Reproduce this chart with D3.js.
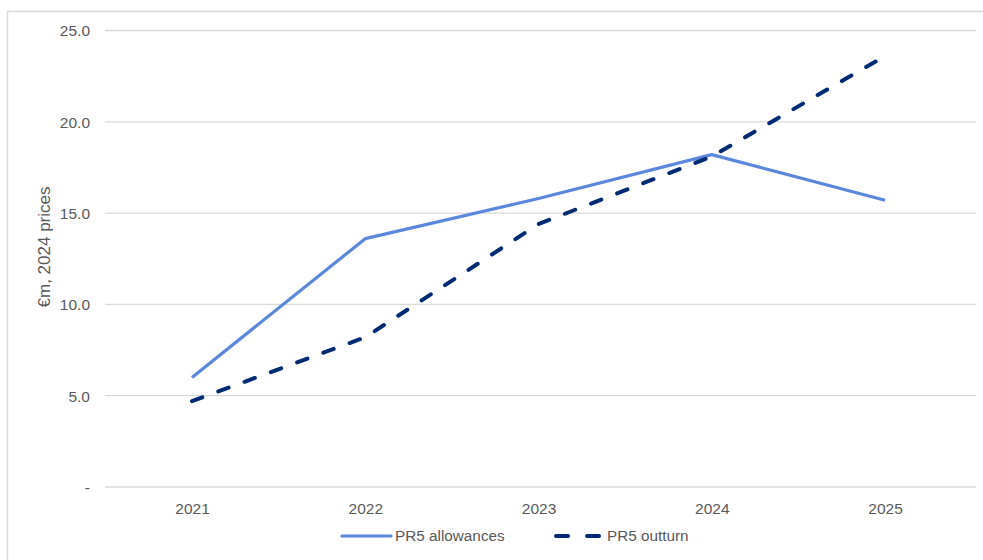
<!DOCTYPE html>
<html><head><meta charset="utf-8">
<script src="https://cdn.jsdelivr.net/npm/d3@7"></script>
<style>body{margin:0;background:#fff;} text{font-family:"Liberation Sans",Arial,sans-serif;}</style>
</head><body>
<svg id="c" width="983" height="560"></svg>
<script>
const years = ["2021","2022","2023","2024","2025"];
const allowances = [6.0, 13.6, 15.8, 18.2, 15.7];
const outturn = [4.7, 8.2, 14.4, 18.1, 23.6];
const yTicks = [0, 5, 10, 15, 20, 25];
const seriesNames = ["PR5 allowances", "PR5 outturn"];

const svg = d3.select("#c");
svg.append("rect").attr("x",7.5).attr("y",11.5).attr("width",1000).attr("height",600)
  .attr("fill","#fff").attr("stroke","#d9d9d9").attr("stroke-width",1.5);

const x = d3.scalePoint().domain(years).range([192, 885]);
const y = d3.scaleLinear().domain([0,25]).range([487, 30.5]);

const grid = svg.append("g");
grid.selectAll("line").data(yTicks).join("line")
  .attr("x1",105).attr("x2",976).attr("y1",d=>y(d)).attr("y2",d=>y(d))
  .attr("stroke","#d9d9d9").attr("stroke-width",1.3);

const yAxis = d3.axisLeft(y).tickValues(yTicks).tickSize(0).tickPadding(0)
  .tickFormat(d=> d===0 ? "-" : d3.format(".1f")(d));
const ga = svg.append("g").attr("transform","translate(90,0)").call(yAxis);
ga.select(".domain").remove();
ga.selectAll("text").attr("fill","#595959").style("font-size","15.5px").attr("dy","0.35em");

const xAxis = d3.axisBottom(x).tickSize(0).tickPadding(0);
const gx = svg.append("g").attr("transform","translate(0,503)").call(xAxis);
gx.select(".domain").remove();
gx.selectAll("text").attr("fill","#595959").style("font-size","15.5px").attr("dy","0.71em");

svg.append("text").attr("transform","translate(50,247) rotate(-90)")
  .attr("text-anchor","middle").attr("fill","#595959").style("font-size","17px")
  .text("€m, 2024 prices");

const line = d3.line().x((d,i)=>x(years[i])).y(d=>y(d));
svg.append("path").datum(allowances).attr("d",line).attr("fill","none")
  .attr("stroke","#5B87DC").attr("stroke-width",3.2).attr("stroke-linejoin","round");
svg.append("path").datum(outturn).attr("d",line).attr("fill","none")
  .attr("stroke","#002B73").attr("stroke-width",4).attr("stroke-linecap","round")
  .attr("stroke-dasharray","11,17").attr("stroke-linejoin","round");

// legend
const ly = 536;
svg.append("line").attr("x1",342).attr("x2",391).attr("y1",ly).attr("y2",ly)
  .attr("stroke","#5B87DC").attr("stroke-width",3.2).attr("stroke-linecap","round");
svg.append("text").attr("x",395).attr("y",ly).attr("dy","0.35em").attr("fill","#595959")
  .style("font-size","15.3px").text(seriesNames[0]);
svg.append("line").attr("x1",556).attr("x2",600).attr("y1",ly).attr("y2",ly)
  .attr("stroke","#002B73").attr("stroke-width",4).attr("stroke-linecap","round")
  .attr("stroke-dasharray","12,19");
svg.append("text").attr("x",607).attr("y",ly).attr("dy","0.35em").attr("fill","#595959")
  .style("font-size","15.3px").text(seriesNames[1]);
</script>
</body></html>
